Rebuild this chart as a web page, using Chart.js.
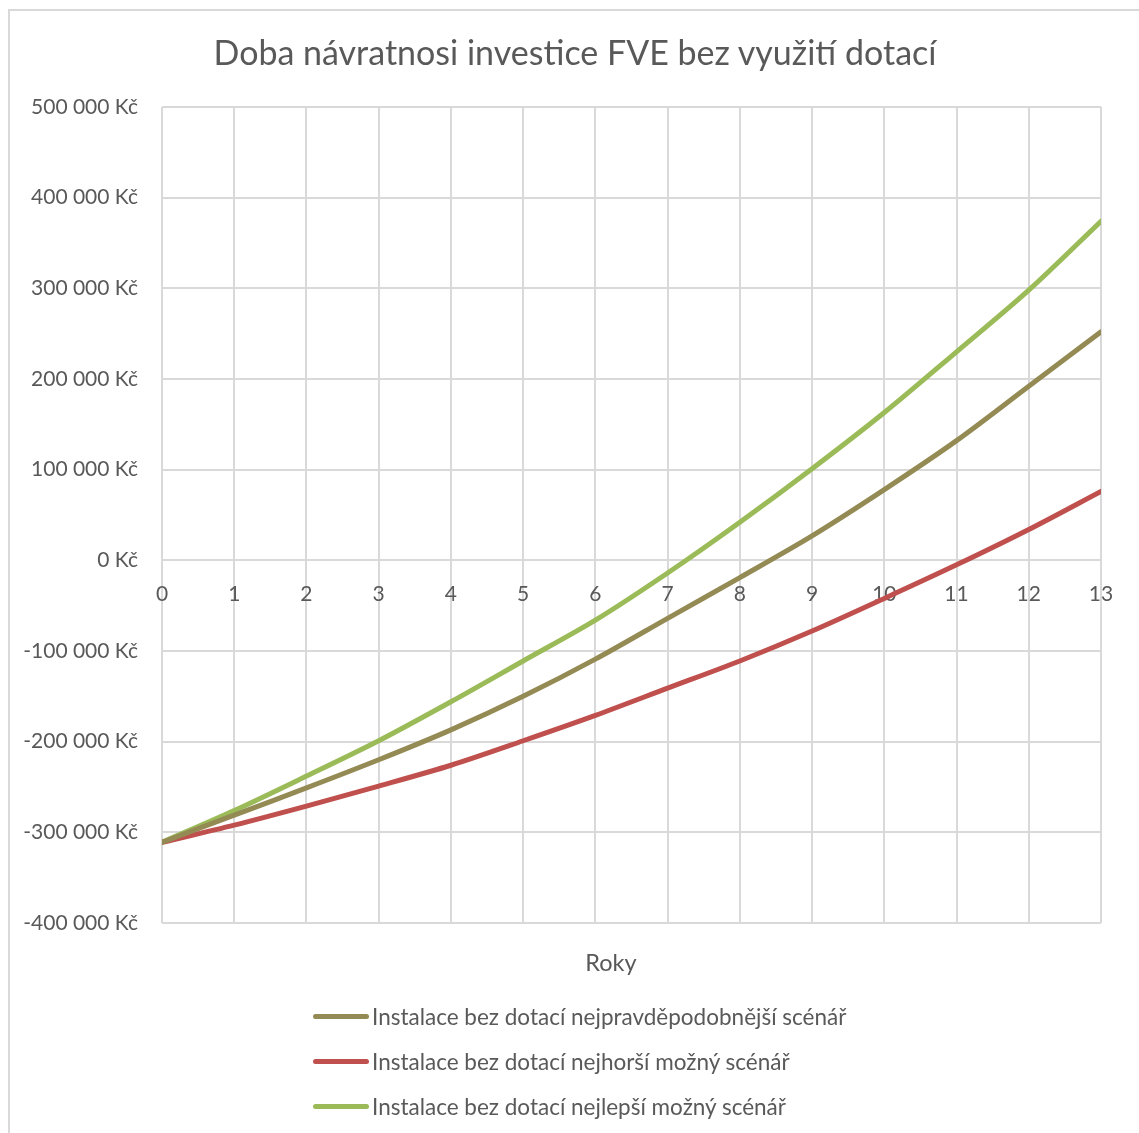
<!DOCTYPE html>
<html>
<head>
<meta charset="utf-8">
<script src="https://cdn.jsdelivr.net/npm/chart.js@4.4.0/dist/chart.umd.min.js"></script>
<style>
  body { margin: 0; background: #fff; }
  #wrap { position: relative; width: 1139px; height: 1133px; overflow: hidden; }
  #frame { position: absolute; left: 8px; top: 9px; width: 1200px; height: 1200px;
           border-left: 2px solid #d9d9d9; border-top: 2px solid #d9d9d9; }
  #graf { position: absolute; left: 0; top: 0; }
  #nadpis { position: absolute; left: 0; top: 32px; width: 1150px; text-align: center;
            font-family: Lato, sans-serif; font-size: 34px; line-height: 40px; color: #595959; }
  #osaX { position: absolute; left: 511px; top: 948px; width: 200px; text-align: center;
          font-family: Lato, sans-serif; font-size: 23.5px; line-height: 28px; color: #595959; }
  #legenda { position: absolute; left: 313px; top: 994px; font-family: Lato, sans-serif;
             font-size: 22.5px; color: #595959; }
  .polozka { display: flex; align-items: center; height: 45px; }
  .vzorek { width: 56px; height: 5px; border-radius: 3px; margin-right: 3px; }
</style>
</head>
<body>
<div id="wrap">
  <div id="frame"></div>
  <canvas id="graf" width="1139" height="1133"></canvas>
  <div id="nadpis">Doba návratnosi investice FVE bez využití dotací</div>
  <div id="osaX">Roky</div>
  <div id="legenda"></div>
</div>
<script>
const roky = [0, 1, 2, 3, 4, 5, 6, 7, 8, 9, 10, 11, 12, 13];
const nejpravdepodobnejsi = [-311000, -281000, -251000, -220000, -187000, -150000, -109000, -64000, -19000, 27000, 78000, 132000, 192000, 252000];
const nejhorsi = [-311000, -292000, -271000, -249000, -226000, -199000, -171000, -141000, -111000, -78000, -42000, -5000, 34000, 76000];
const nejlepsi = [-311000, -276000, -238000, -199000, -156000, -111000, -66000, -14000, 42000, 101000, 163000, 230000, 298000, 374000];

const serie = [
  { label: "Instalace bez dotací nejpravděpodobnější scénář", data: nejpravdepodobnejsi, color: "#948a54" },
  { label: "Instalace bez dotací nejhorší možný scénář", data: nejhorsi, color: "#c0504d" },
  { label: "Instalace bez dotací nejlepší možný scénář", data: nejlepsi, color: "#9bbb59" },
];

const sediva = "#d9d9d9";
const text = "#595959";
const pismo = "Lato, sans-serif";

const formatKc = (v) => {
  const s = Math.abs(v).toString().replace(/\B(?=(\d{3})+(?!\d))/g, " ");
  return (v < 0 ? "-" : "") + s + " Kč";
};

const chart = new Chart(document.getElementById("graf"), {
  type: "line",
  data: {
    datasets: serie.map((s) => ({
      label: s.label,
      data: s.data.map((v, i) => ({ x: roky[i], y: v })),
      borderColor: s.color,
      backgroundColor: s.color,
      borderWidth: 5,
      pointRadius: 0,
      tension: 0.3,
      borderCapStyle: "round",
      xAxisID: "x",
    })),
  },
  options: {
    responsive: false,
    animation: false,
    layout: { padding: { left: 0, right: 38, top: 107, bottom: 210 } },
    plugins: {
      legend: { display: false },
      tooltip: { enabled: false },
    },
    scales: {
      x: {
        type: "linear",
        min: 0,
        max: 13,
        position: "bottom",
        ticks: { display: false, stepSize: 1 },
        grid: { color: sediva, lineWidth: 2, drawTicks: false },
        border: { display: false },
      },
      x2: {
        type: "linear",
        min: 0,
        max: 13,
        position: { y: 0 },
        ticks: { stepSize: 1, color: text, font: { family: pismo, size: 21 }, padding: 21, maxRotation: 0 },
        grid: { display: false, drawTicks: false },
        border: { display: false },
      },
      y: {
        min: -400000,
        max: 500000,
        afterFit: (scale) => { scale.width = 162; },
        ticks: {
          stepSize: 100000,
          color: text,
          font: { family: pismo, size: 21 },
          padding: 24,
          callback: (v) => formatKc(v),
        },
        grid: { color: sediva, lineWidth: 2, drawTicks: false },
        border: { display: false },
      },
    },
  },
});

const legenda = document.getElementById("legenda");
serie.forEach((s) => {
  const p = document.createElement("div");
  p.className = "polozka";
  p.innerHTML = '<span class="vzorek" style="background:' + s.color + '"></span><span>' + s.label + "</span>";
  legenda.appendChild(p);
});
</script>
</body>
</html>
